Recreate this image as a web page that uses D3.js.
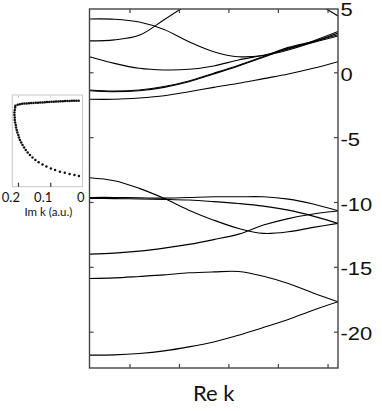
<!DOCTYPE html>
<html>
<head>
<meta charset="utf-8">
<script src="https://cdn.jsdelivr.net/npm/d3@7"></script>
<style>
	body { margin: 0; background: #fff; }
	svg { display: block; }
</style>
</head>
<body>
<svg id="bands"></svg>
<script>
// sample positions along Re k (fraction of the zone shown)
const kGrid = [0, 0.1, 0.2, 0.3, 0.4, 0.5, 0.6, 0.7, 0.8, 0.9, 1.0];

// real bands, energy at each kGrid point (null = off the top)
const bandA = [4.11, 4.09, 3.88, 3.30, 2.36, 1.59, 1.20, 1.30, 1.72, 2.33, 3.02];
const bandB = [2.42, 2.50, 2.85, 4.05, 5.30, null, null, null, null, null, null];
const bandT = [null, null, null, null, null, null, null, null, null, 5.50, 4.34];
const bandC = [1.20, 0.69, 0.31, 0.18, 0.23, 0.49, 0.95, 1.32, 1.80, 2.42, 3.15];
const bandD1 = [-1.42, -1.50, -1.42, -1.16, -0.73, -0.13, 0.49, 1.16, 1.85, 2.30, 2.80];
const bandD2 = [-1.37, -1.45, -1.37, -1.10, -0.67, -0.07, 0.55, 1.22, 1.92, 2.38, 2.90];
const bandE = [-2.08, -2.08, -1.98, -1.81, -1.50, -1.16, -0.85, -0.49, -0.13, 0.31, 0.82];
const bandF = [-8.13, -8.36, -8.95, -9.72, -10.63, -11.40, -12.04, -12.42, -12.30, -11.96, -11.65];
const bandG = [-9.65, -9.65, -9.68, -9.70, -9.65, -9.60, -9.60, -9.60, -9.78, -10.16, -10.68];
const bandH = [-9.72, -9.74, -9.77, -9.80, -9.85, -9.97, -10.12, -10.32, -10.63, -11.09, -11.65];
const bandI = [-14.02, -13.94, -13.79, -13.56, -13.27, -12.90, -12.48, -11.78, -11.28, -10.93, -10.70];
const bandJ = [-15.90, -15.85, -15.74, -15.62, -15.46, -15.39, -15.36, -15.72, -16.28, -17.01, -17.69];
const bandK = [-21.81, -21.79, -21.68, -21.48, -21.17, -20.79, -20.27, -19.68, -19.06, -18.34, -17.69];

const bands = [bandA, bandB, bandT, bandC, bandD1, bandD2, bandE, bandF, bandG, bandH, bandI, bandJ, bandK];

const xTicks = [0.161, 0.36, 0.559, 0.758, 0.958];
const yTicks = [5, 0, -5, -10, -15, -20];

// complex band in the gap: Im k vs energy
const imTop = [0.208, 0.201, 0.194, 0.187, 0.180, 0.173, 0.166, 0.159, 0.152, 0.145, 0.138, 0.131, 0.124, 0.117, 0.110,
	0.103, 0.096, 0.089, 0.082, 0.075, 0.068, 0.061, 0.054, 0.047, 0.040, 0.033, 0.026, 0.019, 0.012];
const eTop = [-2.58, -2.50, -2.46, -2.43, -2.41, -2.40, -2.38, -2.37, -2.36, -2.35, -2.34, -2.33, -2.32, -2.31, -2.30,
	-2.29, -2.28, -2.27, -2.26, -2.25, -2.24, -2.23, -2.22, -2.22, -2.21, -2.20, -2.20, -2.19, -2.19];
const imLow = [0.209, 0.210, 0.211, 0.211, 0.210, 0.210, 0.209, 0.207, 0.206, 0.204, 0.202, 0.199, 0.197, 0.194, 0.190,
	0.186, 0.181, 0.176, 0.170, 0.163, 0.155, 0.146, 0.136, 0.124, 0.112, 0.098, 0.085, 0.070, 0.055, 0.040, 0.025, 0.011];
const eLow = [-2.72, -2.91, -3.10, -3.29, -3.49, -3.68, -3.87, -4.07, -4.26, -4.45, -4.65, -4.84, -5.03, -5.22, -5.42,
	-5.61, -5.80, -5.99, -6.19, -6.38, -6.57, -6.77, -6.94, -7.11, -7.27, -7.41, -7.54, -7.66, -7.75, -7.85, -7.92, -8.00];
const imTicks = [0.2, 0.1, 0];

const W = 382, H = 411;
const frame = { left: 89.5, right: 338, top: 9, bottom: 368 };
const inset = { left: 12.3, right: 82.5, top: 95, bottom: 186.7 };

const svg = d3.select("#bands")
	.attr("width", W)
	.attr("height", H);

const x = d3.scaleLinear()
	.domain([0, 1])
	.range([frame.left, frame.right]);

const y = d3.scaleLinear()
	.domain([-22.8, 4.88])
	.range([frame.bottom, frame.top]);

svg.append("clipPath")
	.attr("id", "clip")
	.append("rect")
	.attr("x", frame.left)
	.attr("y", frame.top)
	.attr("width", frame.right - frame.left)
	.attr("height", frame.bottom - frame.top);

const line = d3.line()
	.defined(d => d !== null)
	.x((d, i) => x(kGrid[i]))
	.y(d => y(d))
	.curve(d3.curveCatmullRom);

svg.append("g")
	.attr("clip-path", "url(#clip)")
	.selectAll("path")
	.data(bands)
	.enter().append("path")
	.attr("d", line)
	.attr("fill", "none")
	.attr("stroke", "#000")
	.attr("stroke-width", 1.1);

// axes: inward ticks on all four sides, labels only on the right
const axisColor = "#444";

svg.append("g")
	.attr("transform", `translate(0,${frame.bottom})`)
	.call(d3.axisBottom(x).tickValues(xTicks).tickSize(-4).tickFormat(""));

svg.append("g")
	.attr("transform", `translate(0,${frame.top})`)
	.call(d3.axisTop(x).tickValues(xTicks).tickSize(-4).tickFormat(""));

svg.append("g")
	.attr("transform", `translate(${frame.left},0)`)
	.call(d3.axisLeft(y).tickValues(yTicks.filter(d => d < 4.88)).tickSize(-4).tickFormat(""));

const rightAxis = svg.append("g")
	.attr("transform", `translate(${frame.right},0)`)
	.call(d3.axisRight(y).tickValues(yTicks).tickSize(-4).tickPadding(2).tickFormat(d => String(d)));

rightAxis.selectAll(".tick")
	.filter(d => d > 4.88)
	.select("line")
	.remove();

rightAxis.selectAll("text")
	.attr("font-family", "'Liberation Sans', Arial, sans-serif")
	.attr("font-size", "18px")
	.attr("fill", "#111")
	.attr("dy", "0.45em")
	.attr("transform", "scale(1.22,1)");

svg.selectAll(".domain").remove();
svg.selectAll(".tick line")
	.attr("stroke", axisColor)
	.attr("stroke-width", 1.2);

svg.append("rect")
	.attr("x", frame.left)
	.attr("y", frame.top)
	.attr("width", frame.right - frame.left)
	.attr("height", frame.bottom - frame.top)
	.attr("fill", "none")
	.attr("stroke", axisColor)
	.attr("stroke-width", 1.4);

svg.append("text")
	.attr("x", (frame.left + frame.right) / 2)
	.attr("y", 401)
	.attr("text-anchor", "middle")
	.attr("font-family", "Lato, sans-serif")
	.attr("font-size", "22px")
	.attr("fill", "#111")
	.text("Re k");

// inset: Im k of the evanescent states, same energy scale
const ix = d3.scaleLinear()
	.domain([0.2176, -0.0015])
	.range([inset.left, inset.right + 0.5]);

svg.append("rect")
	.attr("x", inset.left)
	.attr("y", inset.top)
	.attr("width", inset.right - inset.left)
	.attr("height", inset.bottom - inset.top)
	.attr("fill", "none")
	.attr("stroke", "#c8c8c8")
	.attr("stroke-width", 1);

const insetTop = svg.append("g")
	.attr("transform", `translate(0,${inset.top})`)
	.call(d3.axisTop(ix).tickValues(imTicks.slice(0, 2)).tickSize(-3).tickFormat(""));

insetTop.select(".domain").remove();
insetTop.selectAll("line")
	.attr("stroke", "#d0d0d0");

const insetAxis = svg.append("g")
	.attr("transform", `translate(0,${inset.bottom})`)
	.call(d3.axisBottom(ix).tickValues(imTicks).tickSize(-4).tickPadding(6).tickFormat(d => String(d)));

insetAxis.select(".domain").remove();
insetAxis.selectAll("line")
	.attr("stroke", d => d === 0 ? "none" : "#333")
	.attr("stroke-width", 1.2);
insetAxis.selectAll("text")
	.attr("x", 1.5)
	.attr("text-anchor", "end")
	.attr("font-family", "Lato, sans-serif")
	.attr("font-size", "13px")
	.attr("fill", "#111");

svg.append("text")
	.attr("x", (inset.left + inset.right) / 2 + 1)
	.attr("y", 216)
	.attr("text-anchor", "middle")
	.attr("font-family", "Lato, sans-serif")
	.attr("font-size", "11.5px")
	.attr("fill", "#111")
	.text("Im k (a.u.)");

const dots = imTop.map((d, i) => ({ im: d, e: eTop[i] }))
	.concat(imLow.map((d, i) => ({ im: d, e: eLow[i] })));

svg.append("g")
	.selectAll("circle")
	.data(dots)
	.enter().append("circle")
	.attr("cx", d => ix(d.im))
	.attr("cy", d => y(d.e))
	.attr("r", 1.25)
	.attr("fill", "#111");
</script>
</body>
</html>
